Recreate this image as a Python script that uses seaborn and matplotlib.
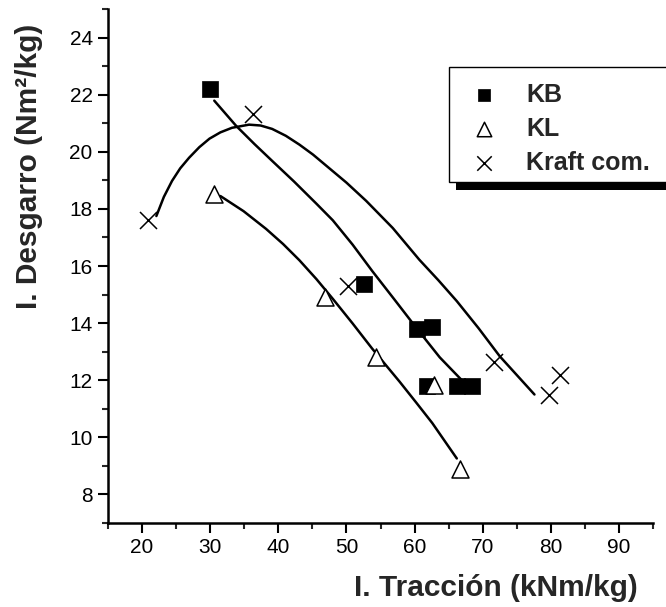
import numpy as np
import pandas as pd
import matplotlib
matplotlib.use("Agg")
import matplotlib.pyplot as plt
from matplotlib.patches import Rectangle
from matplotlib.ticker import MultipleLocator
import seaborn as sns

sns.set_theme(style="ticks")
plt.rcParams["font.family"] = ["Liberation Sans", "DejaVu Sans"]

# Measured points: tensile index (x) vs tear index (y)
kb_x = [30.0, 52.6, 60.3, 62.6, 61.8, 66.2, 68.4]
kb_y = [22.2, 15.37, 13.79, 13.86, 11.8, 11.8, 11.8]

kl_x = [30.6, 46.8, 54.4, 62.8, 66.6]
kl_y = [18.53, 14.91, 12.82, 11.85, 8.9]

kraft_x = [20.8, 36.3, 50.2, 71.6, 79.7, 81.3]
kraft_y = [17.6, 21.33, 15.3, 12.63, 11.47, 12.2]

# Trend curves for each pulp
kb_curve_x = [30.6, 33.8, 36.5, 39.1, 42.3, 45.6, 48.0, 50.9, 53.8, 57.0, 60.3, 63.7, 67.1]
kb_curve_y = [21.79, 20.91, 20.27, 19.68, 18.96, 18.18, 17.6, 16.75, 15.82, 14.84, 13.82, 12.8, 11.96]

kl_curve_x = [31.5, 34.9, 38.2, 40.7, 43.1, 45.6, 48.0, 50.9, 53.8, 57.8, 60.3, 62.6, 66.2]
kl_curve_y = [18.45, 17.92, 17.3, 16.77, 16.2, 15.54, 14.85, 13.99, 13.1, 11.95, 11.2, 10.5, 9.26]

kraft_curve_x = [22.1, 23.2, 24.4, 25.6, 26.9, 28.4, 29.9, 31.5, 33.2, 35.7,
                 37.4, 39.1, 41.1, 43.1, 45.1, 47.1, 50.0, 52.9, 56.8, 60.7,
                 63.5, 66.2, 69.4, 72.5, 77.6]
kraft_curve_y = [17.75, 18.42, 18.98, 19.42, 19.79, 20.16, 20.46, 20.68, 20.84, 20.95,
                 20.92, 20.8, 20.56, 20.25, 19.9, 19.5, 18.92, 18.28, 17.33, 16.22,
                 15.5, 14.77, 13.82, 12.84, 11.5]

x_ticks = [20, 30, 40, 50, 60, 70, 80, 90]
y_ticks = [8, 10, 12, 14, 16, 18, 20, 22, 24]

W, H = 666, 607
fig = plt.figure(figsize=(W / 100, H / 100), dpi=100)
ax = fig.add_axes([108 / W, 1 - 523 / H, (653 - 108) / W, (523 - 9) / H])

curves = pd.concat([
    pd.DataFrame({"x": kb_curve_x, "y": kb_curve_y, "serie": "KB"}),
    pd.DataFrame({"x": kl_curve_x, "y": kl_curve_y, "serie": "KL"}),
    pd.DataFrame({"x": kraft_curve_x, "y": kraft_curve_y, "serie": "Kraft com."}),
])
for name, grp in curves.groupby("serie", sort=False):
    sns.lineplot(data=grp, x="x", y="y", sort=False, estimator=None,
                 color="black", lw=1.8, ax=ax, legend=False, zorder=2)

sns.scatterplot(x=kb_x, y=kb_y, marker="s", s=120, color="black",
                edgecolor="black", linewidth=0.5, ax=ax, label="KB", zorder=3)
sns.scatterplot(x=kl_x, y=kl_y, marker="^", s=150, facecolor="white",
                edgecolor="black", linewidth=1.1, ax=ax, label="KL", zorder=3)
sns.scatterplot(x=kraft_x, y=kraft_y, marker="x", s=150, color="black",
                linewidth=1.1, ax=ax, label="Kraft com.", zorder=3)

ax.set_xlim(15, 95)
ax.set_ylim(7, 25)
ax.set_xticks(x_ticks)
ax.set_yticks(y_ticks)
ax.xaxis.set_minor_locator(MultipleLocator(5))
ax.yaxis.set_minor_locator(MultipleLocator(1))
ax.tick_params(which="major", direction="out", length=7, width=1.5,
               labelsize=15, colors="black", pad=4)
ax.tick_params(which="minor", direction="out", length=4, width=1.5)
sns.despine(ax=ax)
for sp in ("left", "bottom"):
    ax.spines[sp].set_linewidth(1.8)
    ax.spines[sp].set_color("black")
ax.set_xlabel("")
ax.set_ylabel("")

fig.text(496 / W, 1 - 588 / H, "I. Tracción (kNm/kg)", ha="center", va="center",
         fontsize=21.5, fontweight="bold")
fig.text(29 / W, 1 - 166 / H, "I. Desgarro (Nm²/kg)", ha="center", va="center",
         rotation=90, fontsize=21.5, fontweight="bold")

# Legend box with a solid drop shadow
handles, labels = ax.get_legend_handles_labels()
ax.get_legend().remove()
fig.patches.append(Rectangle((456 / W, 1 - 190 / H), 300 / W, (190 - 75) / H,
                             transform=fig.transFigure, facecolor="black",
                             edgecolor="none", zorder=4))
fig.patches.append(Rectangle((449 / W, 1 - 182 / H), 300 / W, (182 - 67) / H,
                             transform=fig.transFigure, facecolor="white",
                             edgecolor="black", linewidth=1.0, zorder=5))
leg = fig.legend(handles, labels, loc="upper left",
                 bbox_to_anchor=(454 / W, 1 - 65 / H),
                 bbox_transform=fig.transFigure, frameon=False,
                 prop={"weight": "bold", "size": 18}, handletextpad=1.2,
                 labelspacing=0.4, handlelength=1.0, borderpad=0.2,
                 markerscale=0.85)
leg.set_zorder(6)

fig.savefig("out.png", dpi=100)
